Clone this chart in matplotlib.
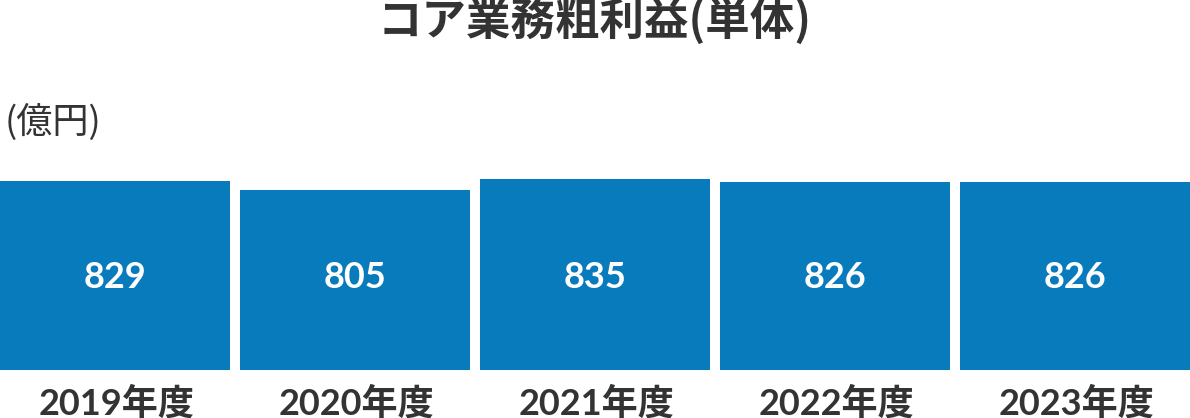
import matplotlib
matplotlib.use('Agg')
import matplotlib.pyplot as plt
import matplotlib.transforms as mtransforms

years = ['2019年度', '2020年度', '2021年度', '2022年度', '2023年度']
values = [829, 805, 835, 826, 826]

title = 'コア業務粗利益(単体)'
unit = '(億円)'
bar_color = '#077bbc'
text_color = '#333333'

plt.rcParams['font.family'] = ['Lato', 'Noto Sans CJK JP', 'DejaVu Sans']
cjk = ['Noto Sans CJK JP', 'DejaVu Sans']

W, H = 1190, 418
fig = plt.figure(figsize=(W / 100, H / 100), dpi=100)
ax = fig.add_axes([0, 48 / H, 1, 210 / H])

xs = list(range(len(values)))
ax.bar(xs, values, width=230 / 240, align='edge', color=bar_color)
ax.set_xlim(0, W / 240)
ax.set_ylim(300, 888)
ax.axis('off')

# x in data, y in figure fraction
trans = mtransforms.blended_transform_factory(ax.transData, fig.transFigure)
for x, v in zip(xs, values):
    cx = x + 115 / 240
    ax.text(cx, 1 - 277 / H, f'{v}', ha='center', va='center', transform=trans,
            color='white', fontsize=26, fontweight='bold')
    ax.text(cx + 2 / 240, 1 - 403 / H, years[x], ha='center', va='center', transform=trans,
            color=text_color, fontsize=26, fontweight='bold')

fig.text(595 / W, 1 - 22 / H, title, ha='center', va='center', color=text_color,
         fontsize=32, fontweight='bold', family=cjk)
fig.text(5 / W, 1 - 122 / H, unit, ha='left', va='center', color=text_color,
         fontsize=26, family=cjk)

fig.savefig('out.png', dpi=100)
